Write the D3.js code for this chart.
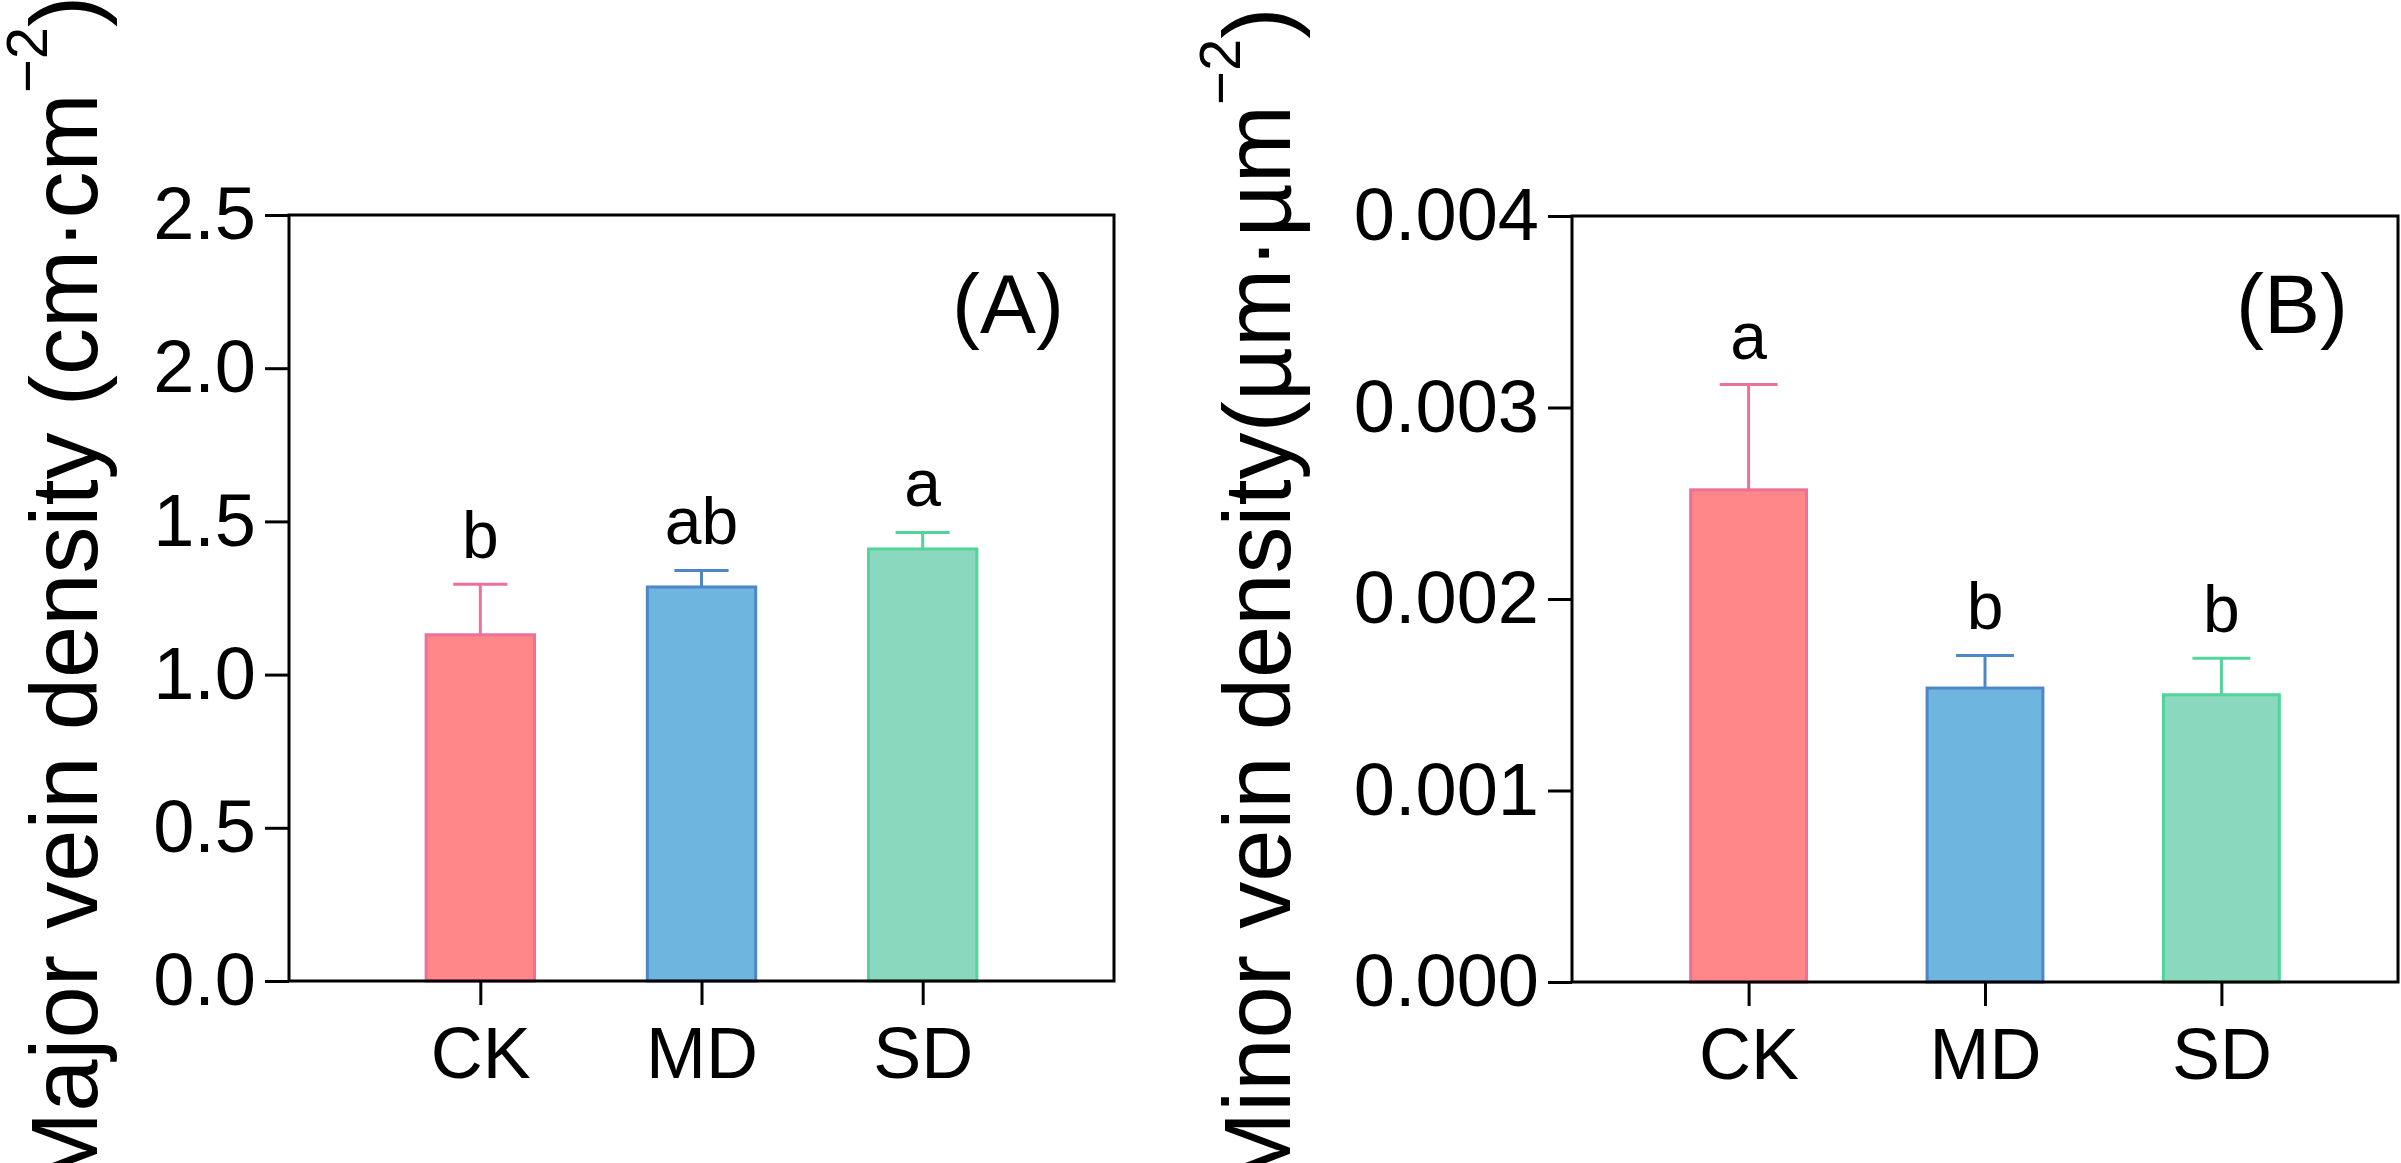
<!DOCTYPE html>
<html>
<head>
<meta charset="utf-8">
<script src="https://cdn.jsdelivr.net/npm/d3@7"></script>
<style>
    body { margin: 0; background: #fff; }
    text { font-family: 'Liberation Sans', Arial, sans-serif; fill: #000; }
</style>
</head>
<body>
<div id="chart"></div>
<script>
const width = 2401;
const height = 1163;

// data
const categories = ['CK', 'MD', 'SD'];
const majorMeans = [1.13, 1.286, 1.41];
const majorErrors = [0.165, 0.054, 0.054];
const majorLetters = ['b', 'ab', 'a'];
const majorTicks = [0, 0.5, 1.0, 1.5, 2.0, 2.5];

const minorMeans = [0.00257, 0.001535, 0.0015];
const minorErrors = [0.00055, 0.00017, 0.00019];
const minorLetters = ['a', 'b', 'b'];
const minorTicks = [0, 0.001, 0.002, 0.003, 0.004];

const fills = ['#ff8689', '#6eb5e0', '#8ad8be'];
const strokes = ['#ec7198', '#4f87c6', '#52d49b'];

const svg = d3.select('#chart')
    .append('svg')
    .attr('width', width)
    .attr('height', height);

drawPanel({
    left: 289, right: 1114, top: 215, bottom: 981,
    domain: [0, 2.5], ticks: majorTicks, fmt: d3.format('.1f'),
    means: majorMeans, errors: majorErrors, letters: majorLetters,
    padding: 0.865, tag: '(A)', titleX: 97,
    title: ['Major vein density (cm\u00B7cm', '\u22122', ')']
});

drawPanel({
    left: 1572, right: 2398, top: 216, bottom: 982,
    domain: [0, 0.004], ticks: minorTicks, fmt: d3.format('.3f'),
    means: minorMeans, errors: minorErrors, letters: minorLetters,
    padding: 0.747, tag: '(B)', titleX: 1290,
    title: ['Minor vein density(\u00B5m\u00B7\u00B5m', '\u22122', ')']
});


function drawPanel(p) {
    const g = svg.append('g');

    const y = d3.scaleLinear().domain(p.domain).range([p.bottom, p.top]);
    const x = d3.scalePoint().domain(categories).range([p.left, p.right]).padding(p.padding);
    const bw = x.step() * 0.49;

    // bars
    g.selectAll('rect.bar')
        .data(categories)
        .enter()
        .append('rect')
        .attr('class', 'bar')
        .attr('x', d => x(d) - bw / 2)
        .attr('y', (d, i) => y(p.means[i]))
        .attr('width', bw)
        .attr('height', (d, i) => y(0) - y(p.means[i]))
        .attr('fill', (d, i) => fills[i])
        .attr('stroke', (d, i) => strokes[i])
        .attr('stroke-width', 3);

    // error bars (upper only)
    g.selectAll('line.err')
        .data(categories)
        .enter()
        .append('line')
        .attr('x1', d => x(d))
        .attr('x2', d => x(d))
        .attr('y1', (d, i) => y(p.means[i]))
        .attr('y2', (d, i) => y(p.means[i] + p.errors[i]))
        .attr('stroke', (d, i) => strokes[i])
        .attr('stroke-width', 3);

    g.selectAll('line.cap')
        .data(categories)
        .enter()
        .append('line')
        .attr('x1', d => x(d) - bw / 4)
        .attr('x2', d => x(d) + bw / 4)
        .attr('y1', (d, i) => y(p.means[i] + p.errors[i]))
        .attr('y2', (d, i) => y(p.means[i] + p.errors[i]))
        .attr('stroke', (d, i) => strokes[i])
        .attr('stroke-width', 3);

    // significance letters
    g.selectAll('text.sig')
        .data(categories)
        .enter()
        .append('text')
        .attr('x', d => x(d))
        .attr('y', (d, i) => y(p.means[i] + p.errors[i]) - 26)
        .attr('text-anchor', 'middle')
        .attr('font-size', 66)
        .text((d, i) => p.letters[i]);

    // frame
    g.append('rect')
        .attr('x', p.left)
        .attr('y', p.top)
        .attr('width', p.right - p.left)
        .attr('height', p.bottom - p.top)
        .attr('fill', 'none')
        .attr('stroke', '#000')
        .attr('stroke-width', 3);

    // y axis
    let yAxis = g.append('g')
        .attr('transform', `translate(${p.left},0)`)
        .call(d3.axisLeft(y).tickValues(p.ticks).tickFormat(p.fmt).tickSize(24).tickPadding(9));
    yAxis.select('.domain').remove();
    yAxis.selectAll('line').attr('stroke', '#000').attr('stroke-width', 3);
    yAxis.selectAll('text')
        .attr('font-size', 74)
        .attr('font-family', "'Liberation Sans', Arial, sans-serif");

    // x axis
    let xAxis = g.append('g')
        .attr('transform', `translate(0,${p.bottom})`)
        .call(d3.axisBottom(x).tickSize(24).tickPadding(0));
    xAxis.select('.domain').remove();
    xAxis.selectAll('line').attr('stroke', '#000').attr('stroke-width', 3);
    xAxis.selectAll('text')
        .attr('font-size', 72)
        .attr('font-family', "'Liberation Sans', Arial, sans-serif")
        .attr('dy', null)
        .attr('y', 97);

    // panel tag
    g.append('text')
        .attr('x', p.right - 50)
        .attr('y', 333)
        .attr('text-anchor', 'end')
        .attr('font-size', 84)
        .text(p.tag);

    // y title
    let title = g.append('text')
        .attr('transform', `translate(${p.titleX},1190) rotate(-90)`)
        .attr('text-anchor', 'start')
        .attr('font-size', 94);
    title.append('tspan').text(p.title[0]);
    title.append('tspan').attr('font-size', 58).attr('dy', -50).text(p.title[1]);
    title.append('tspan').attr('dy', 50).text(p.title[2]);
}
</script>
</body>
</html>
